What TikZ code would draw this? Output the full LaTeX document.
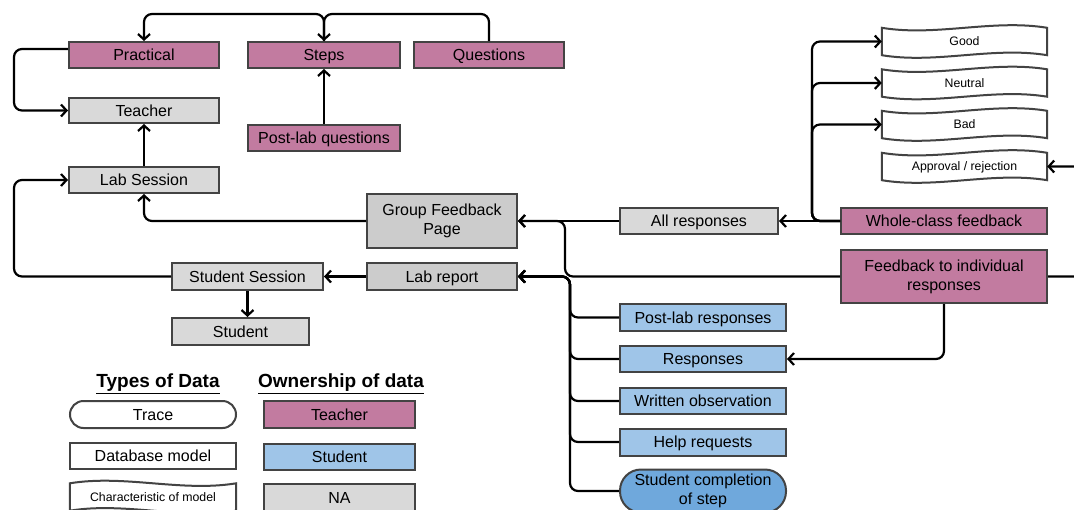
\documentclass[tikz,border=0pt]{standalone}
\usepackage{fontspec}
\setmainfont{Liberation Sans}
\usetikzlibrary{arrows.meta,calc}
\definecolor{pinkc}{HTML}{C27BA0}
\definecolor{bluec}{HTML}{9FC5E8}
\definecolor{dbluec}{HTML}{6FA8DC}
\definecolor{grayc}{HTML}{D9D9D9}
\definecolor{dgrayc}{HTML}{CCCCCC}
\definecolor{bordc}{HTML}{434343}
\newcommand\mywave[2]{%
  \draw[wavestyle] (#1.north west)
    .. controls ($(#1.north west)!0.33!(#1.north east)+(0,#2)$) and ($(#1.north west)!0.67!(#1.north east)+(0,-#2)$) .. (#1.north east)
    -- (#1.south east)
    .. controls ($(#1.south west)!0.67!(#1.south east)+(0,-#2)$) and ($(#1.south west)!0.33!(#1.south east)+(0,#2)$) .. (#1.south west)
    -- cycle;}
\begin{document}
\begin{tikzpicture}[x=1pt,y=-1pt,
  box/.style={draw=bordc,line width=2pt,inner sep=0pt,font=\fontsize{16}{19}\selectfont,align=center},
  one/.style={text height=11.5pt,text depth=0pt},
  tch/.style={box,one,fill=pinkc},
  stu/.style={box,one,fill=bluec},
  na/.style={box,one,fill=grayc},
  nad/.style={box,one,fill=dgrayc},
  wv/.style={inner sep=0pt,font=\fontsize{12.3}{15}\selectfont,text height=8.8pt,text depth=0pt},
  wavestyle/.style={draw=bordc,line width=2pt},
  conn/.style={draw=black,line width=2.2pt,rounded corners=8pt,-{Straight Barb[length=5.5pt,width=12pt]}},
  sz/.style 2 args={minimum width=#1pt,minimum height=#2pt}]
\useasboundingbox (0,0) rectangle (1074,509);
\fill[white] (0,0) rectangle (1074,509);
\clip (0,0) rectangle (1074,509);
\coordinate (topy) at (0,14);
\coordinate (tA) at (565,0);
\coordinate (tB) at (812,0);
\coordinate (tC) at (570,0);
% nodes
\node[tch,sz={150}{26}] (prac) at (144,55) {Practical};
\node[tch,sz={152}{26}] (steps) at (324,55) {Steps};
\node[tch,sz={150}{26}] (quest) at (489,55) {Questions};
\node[na,sz={150}{25}] (teacher) at (144,110.5) {Teacher};
\node[tch,sz={152}{26}] (plq) at (324,138) {Post-lab questions};
\node[na,sz={150}{26}] (labs) at (144,180) {Lab Session};
\node[box,fill=dgrayc,sz={150}{54}] (gfp) at (442,221) {Group Feedback\\Page};
\node[na,sz={158}{26}] (allr) at (699,221) {All responses};
\node[tch,sz={206}{26}] (wcf) at (944,221) {Whole-class feedback};
\node[box,fill=pinkc,sz={206}{53}] (fir) at (944,276.5) {Feedback to individual\\responses};
\node[na,sz={151}{27}] (ss) at (247.5,276.5) {Student Session};
\node[nad,sz={150}{27}] (labr) at (442,276.5) {Lab report};
\node[na,sz={137}{27}] (stud) at (240.5,331.5) {Student};
\node[stu,sz={166}{27}] (plr) at (703,317.5) {Post-lab responses};
\node[stu,sz={166}{26}] (resp) at (703,359) {Responses};
\node[stu,sz={166}{26}] (wo) at (703,401) {Written observation};
\node[stu,sz={166}{27}] (hr) at (703,442) {Help requests};
\node[box,fill=dbluec,rounded corners=21pt,sz={166}{43}] (scs) at (703,491) {Student completion\\of step};
\node[wv,sz={165}{27}] (good) at (964.5,41.5) {Good};
\node[wv,sz={165}{27}] (neutral) at (964.5,83) {Neutral};
\node[wv,sz={165}{27}] (bad) at (964.5,124.5) {Bad};
\node[wv,sz={165}{27}] (appr) at (964.5,166.5) {Approval / rejection};
\mywave{good}{9}
\mywave{neutral}{9}
\mywave{bad}{9}
\mywave{appr}{9}
% legend
\node[font=\fontsize{19}{22}\selectfont\bfseries,inner sep=0pt] (ttypes) at (158,384) {\underline{Types of Data}};
\node[font=\fontsize{19}{22}\selectfont\bfseries,inner sep=0pt] (towner) at (341,384) {\underline{Ownership of data}};
\node[box,one,fill=white,rounded corners=13.5pt,sz={166}{27}] (trace) at (153,414.5) {Trace};
\node[box,one,fill=white,sz={166}{26}] (dbm) at (153,456) {Database model};
\node[wv,sz={166}{27}] (charm) at (153,497) {Characteristic of model};
\mywave{charm}{-9}
\node[tch,sz={151}{27}] (lt) at (339.5,414.5) {Teacher};
\node[stu,sz={151}{26}] (ls) at (339.5,456.5) {Student};
\node[na,sz={151}{27}] (lna) at (339.5,497.5) {NA};
% connectors
\draw[conn] (steps.north) |- (topy -| prac.north) -- (prac.north);
\draw[conn] (quest.north) |- (topy -| steps.north) -- (steps.north);
\draw[conn] (plq.north) -- (steps.south);
\draw[conn] ([yshift=6pt]prac.west) -- ++(-54,0) |- (teacher.west);
\draw[conn] (labs.north) -- (teacher.south);
\draw[conn] (ss.west) -- ++(-157,0) |- (labs.west);
\draw[conn] (gfp.west) -| (labs.south);
\draw[conn] (labr.west) -- (ss.east);
\draw[conn] (ss.south) -- (ss.south |- stud.north);
\draw[conn] (allr.west) -- (gfp.east);
\draw[conn] (fir.west) -- (fir.west -| tA) |- (gfp.east);
\draw[conn] (wcf.west) -- (allr.east);
\draw[conn] (wcf.west) -- (wcf.west -| tB) |- (good.west);
\draw[conn] (wcf.west) -- (wcf.west -| tB) |- (neutral.west);
\draw[conn] (wcf.west) -- (wcf.west -| tB) |- (bad.west);
\draw[conn] (fir.east) -- ++(40,0) |- (appr.east);
\draw[conn] (fir.south) |- (resp.east);
\foreach \b in {plr,resp,wo,hr,scs}{
  \draw[conn] (\b.west) -- (\b.west -| tC) |- (labr.east);
}
\end{tikzpicture}
\end{document}
